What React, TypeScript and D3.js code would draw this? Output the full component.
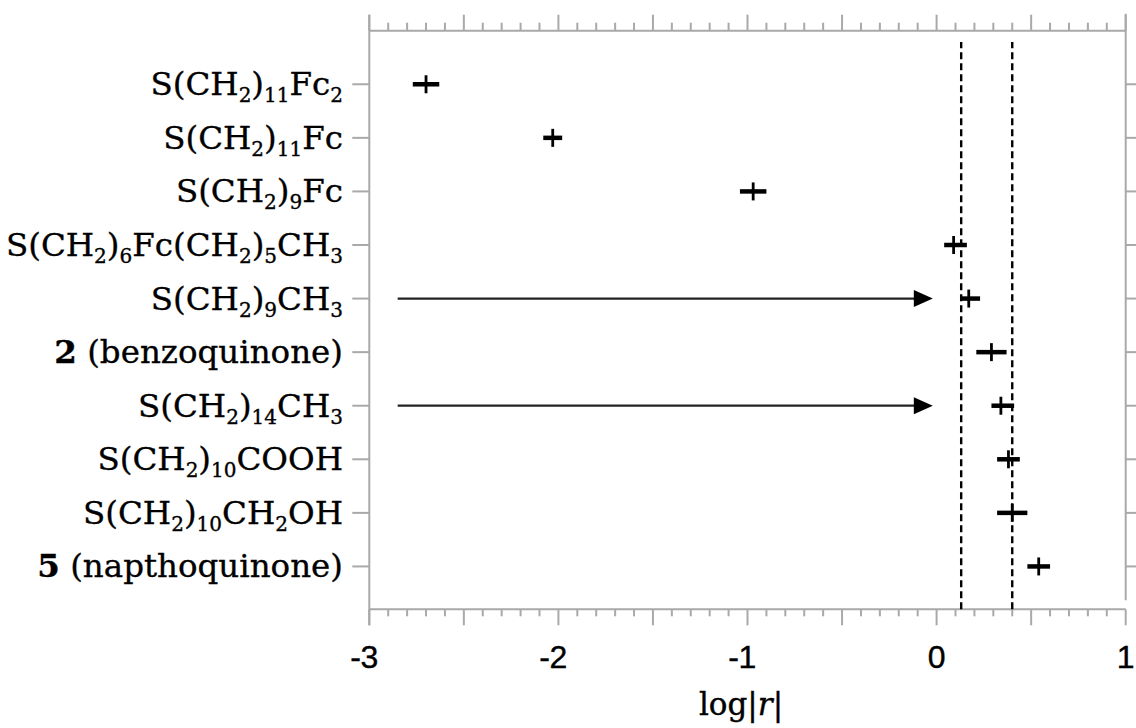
import React from "react";
import * as d3 from "d3";

// Compounds, top to bottom. "_x" / "_{xx}" marks a subscript, "*x*" bold text.
const categories = [
  "S(CH_2)_{11}Fc_2",
  "S(CH_2)_{11}Fc",
  "S(CH_2)_9Fc",
  "S(CH_2)_6Fc(CH_2)_5CH_3",
  "S(CH_2)_9CH_3",
  "*2* (benzoquinone)",
  "S(CH_2)_{14}CH_3",
  "S(CH_2)_{10}COOH",
  "S(CH_2)_{10}CH_2OH",
  "*5* (napthoquinone)",
];

// log|r| estimate with its lower / upper bound for each compound
const logR = [-2.7, -2.03, -0.97, 0.09, 0.17, 0.29, 0.34, 0.38, 0.4, 0.54];
const logRLow = [-2.77, -2.08, -1.04, 0.04, 0.13, 0.21, 0.29, 0.32, 0.32, 0.48];
const logRHigh = [-2.63, -1.98, -0.9, 0.16, 0.23, 0.37, 0.41, 0.44, 0.48, 0.6];

// vertical reference band
const boundLines = [0.13, 0.4];

// rows carrying an arrow, and the arrow's extent in log|r|
const arrowRows = [4, 6];
const arrowFrom = [-2.85, -2.85];
const arrowTo = [-0.02, -0.02];

const xTickLabels = [-3, -2, -1, 0, 1];

const W = 1136;
const H = 728;
const AXIS = "#a9a9a9";
const SERIF = "'DejaVu Serif', serif";
const SANS = "'Liberation Sans', Arial, sans-serif";

type Seg = { t: string; sub?: boolean; bold?: boolean };

function parseLabel(s: string): Seg[] {
  const out: Seg[] = [];
  let i = 0;
  while (i < s.length) {
    if (s[i] === "_") {
      if (s[i + 1] === "{") {
        const j = s.indexOf("}", i);
        out.push({ t: s.slice(i + 2, j), sub: true });
        i = j + 1;
      } else {
        out.push({ t: s[i + 1], sub: true });
        i += 2;
      }
    } else if (s[i] === "*") {
      const j = s.indexOf("*", i + 1);
      out.push({ t: s.slice(i + 1, j), bold: true });
      i = j + 1;
    } else {
      let j = i;
      while (j < s.length && s[j] !== "_" && s[j] !== "*") j++;
      out.push({ t: s.slice(i, j) });
      i = j;
    }
  }
  return out;
}

export default function App() {
  const x = d3.scaleLinear().domain([-3, 1]).range([369.3, 1125.7]);
  const y = d3.scaleLinear().domain([0, 10.8]).range([30.7, 609.3]);
  const yTop = y(0);
  const yBot = y(10.8);
  const xL = x(-3);
  const xR = x(1);

  const minor = d3.range(-30, 11).map((v) => v / 10);
  const isMajor = (v: number) => Math.abs(v * 2 - Math.round(v * 2)) < 1e-6;

  const labelSize = 32.5;
  const subSize = 20;
  const subShift = 7;

  return (
    <svg
      width={W}
      height={H}
      style={{ position: "absolute", left: 0, top: 0, background: "#fff" }}
    >
      <rect width={W} height={H} fill="#fff" />

      {/* top axis with ticks pointing up */}
      <line x1={xL} x2={xR} y1={yTop} y2={yTop} stroke={AXIS} strokeWidth={2} />
      {minor.map((v, i) => (
        <line
          key={"tt" + i}
          x1={x(v)}
          x2={x(v)}
          y1={yTop}
          y2={yTop - (isMajor(v) ? 16 : 8)}
          stroke={AXIS}
          strokeWidth={2}
        />
      ))}

      {/* bottom axis with ticks pointing down */}
      <line x1={xL} x2={xR} y1={yBot} y2={yBot} stroke={AXIS} strokeWidth={2} />
      {minor.map((v, i) => (
        <line
          key={"bt" + i}
          x1={x(v)}
          x2={x(v)}
          y1={yBot}
          y2={yBot + (isMajor(v) ? 16 : 7)}
          stroke={AXIS}
          strokeWidth={2}
        />
      ))}

      {/* side frames */}
      <line x1={xL} x2={xL} y1={yTop - 16} y2={yBot + 16} stroke={AXIS} strokeWidth={2} />
      <line x1={xR} x2={xR} y1={yTop - 17} y2={yBot - 9} stroke={AXIS} strokeWidth={2} />

      {/* category ticks on both sides */}
      {categories.map((_, i) => (
        <g key={"ct" + i}>
          <line x1={xL - 17} x2={xL} y1={y(i + 1)} y2={y(i + 1)} stroke={AXIS} strokeWidth={2} />
          <line x1={xR} x2={xR + 12} y1={y(i + 1)} y2={y(i + 1)} stroke={AXIS} strokeWidth={2} />
        </g>
      ))}

      {/* x tick labels: digit centred on the tick, minus sign hanging left */}
      {xTickLabels.map((v) => {
        const cx = x(v);
        return (
          <g key={"xl" + v} fontFamily={SANS} fontSize={32} fill="#000" stroke="#000" strokeWidth={0.4}>
            <text x={cx} y={668} textAnchor="middle">
              {Math.abs(v)}
            </text>
            {v < 0 && (
              <text x={cx - 8.5} y={668} textAnchor="end">
                -
              </text>
            )}
          </g>
        );
      })}

      {/* x axis title */}
      <text
        x={741}
        y={715}
        textAnchor="middle"
        fontFamily={SERIF}
        fontSize={31}
        fill="#000"
        stroke="#000"
        strokeWidth={0.4}
      >
        log|<tspan fontStyle="italic">r</tspan>|
      </text>

      {/* category labels */}
      {categories.map((c, i) => {
        const segs = parseLabel(c);
        let cur = 0;
        return (
          <text
            key={"cl" + i}
            x={343}
            y={y(i + 1) + 11}
            textAnchor="end"
            fontFamily={SERIF}
            fontSize={labelSize}
            fill="#000"
            stroke="#000"
            strokeWidth={0.35}
          >
            {segs.map((s, k) => {
              const target = s.sub ? subShift : 0;
              const dy = target - cur;
              cur = target;
              return (
                <tspan
                  key={k}
                  dy={dy}
                  fontSize={s.sub ? subSize : labelSize}
                  fontWeight={s.bold ? "bold" : "normal"}
                >
                  {s.t}
                </tspan>
              );
            })}
          </text>
        );
      })}

      {/* dashed reference lines */}
      {boundLines.map((v, i) => (
        <line
          key={"bl" + i}
          x1={x(v)}
          x2={x(v)}
          y1={yBot}
          y2={42}
          stroke="#000"
          strokeWidth={2.4}
          strokeDasharray="7,4"
        />
      ))}

      {/* arrows */}
      {arrowRows.map((r, i) => {
        const yy = y(r + 1);
        const x0 = x(arrowFrom[i]);
        const x1 = x(arrowTo[i]);
        const head = 19;
        return (
          <g key={"ar" + i}>
            <line x1={x0} x2={x1 - head + 2} y1={yy} y2={yy} stroke="#222" strokeWidth={2.2} />
            <path
              d={`M${x1},${yy} L${x1 - head},${yy - 8.5} L${x1 - head},${yy + 8.5} Z`}
              fill="#000"
            />
          </g>
        );
      })}

      {/* estimates with their ranges */}
      {logR.map((v, i) => {
        const yy = y(i + 1);
        return (
          <g key={"pt" + i}>
            <line
              x1={x(logRLow[i])}
              x2={x(logRHigh[i])}
              y1={yy}
              y2={yy}
              stroke="#000"
              strokeWidth={4.5}
            />
            <line x1={x(v)} x2={x(v)} y1={yy - 9} y2={yy + 9} stroke="#000" strokeWidth={2.8} />
          </g>
        );
      })}
    </svg>
  );
}
